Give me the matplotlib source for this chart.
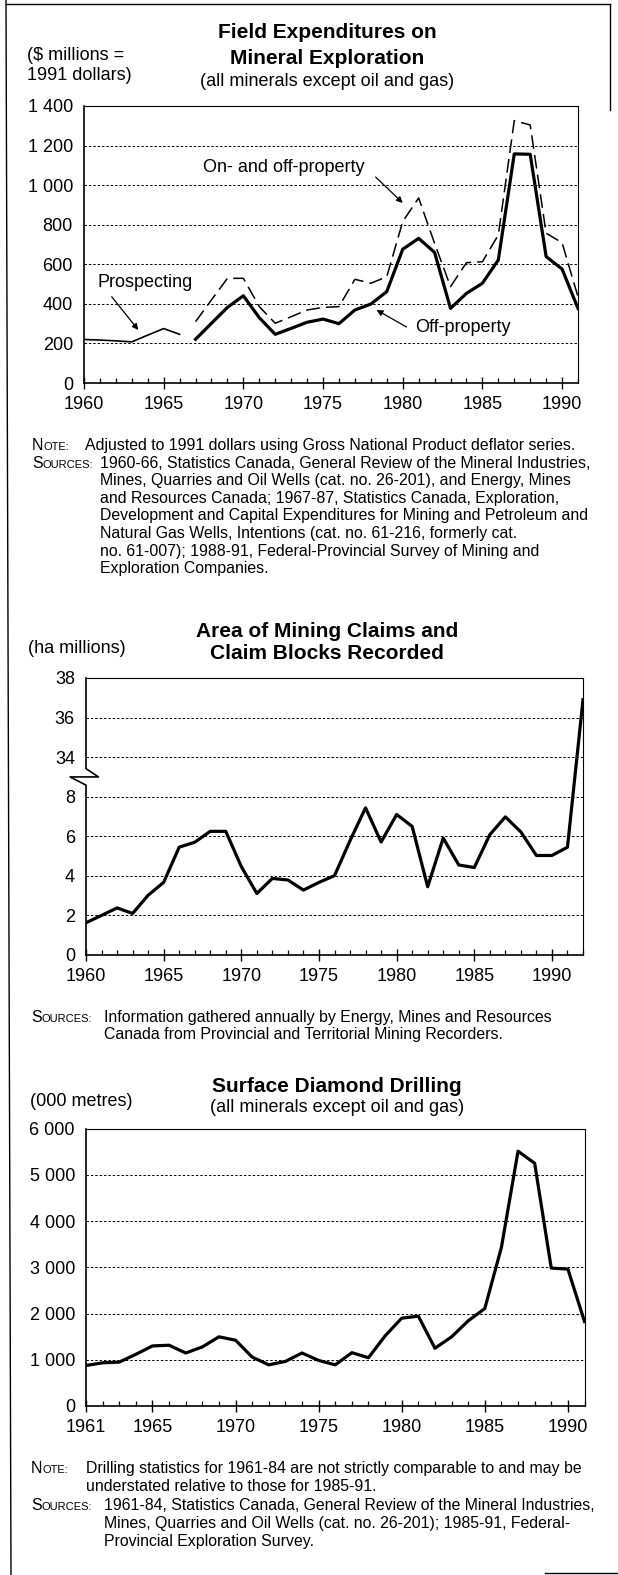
import numpy as np
import matplotlib
matplotlib.use("Agg")
import matplotlib.pyplot as plt
import matplotlib.transforms as mtransforms
from matplotlib.lines import Line2D

plt.rcParams['font.family'] = ['Liberation Sans', 'DejaVu Sans']

W, H = 618, 1575
NOTE_SIZE = 11.4

# values
prosp_years = list(range(1960, 1967))
prospecting = [220, 217, 213, 208, 242, 275, 246]

expl_years = list(range(1967, 1992))
off_property = [221, 302, 382, 441, 330, 246, 276, 307, 323, 300, 369, 399, 462,
                676, 731, 660, 377, 453, 504, 622, 1158, 1156, 639, 576, 377]
on_off_property = [310, 420, 529, 529, 386, 302, 335, 369, 382, 386, 524, 504, 537,
                   816, 935, 706, 487, 608, 613, 748, 1326, 1304, 757, 709, 436]

claim_years = list(range(1960, 1993))
claims = [1.63, 2.0, 2.38, 2.1, 3.02, 3.67, 5.45, 5.7, 6.25, 6.25, 4.47, 3.11, 3.87,
          3.79, 3.28, 3.67, 4.01, 5.78, 7.44, 5.71, 7.1, 6.5, 3.45, 5.91, 4.55, 4.42,
          6.08, 6.98, 6.22, 5.03, 5.03, 5.45, 36.9]
claim_ticks = [0, 2, 4, 6, 8, 34, 36, 38]

drill_years = list(range(1961, 1992))
drilling = [876, 934, 949, 1117, 1299, 1314, 1146, 1277, 1496, 1423, 1058, 890, 964,
            1146, 985, 890, 1153, 1044, 1516, 1899, 1942, 1249, 1495, 1841, 2108,
            3430, 5509, 5249, 2982, 2960, 1827]

note1 = ["Adjusted to 1991 dollars using Gross National Product deflator series."]
sources1 = ["1960-66, Statistics Canada, General Review of the Mineral Industries,",
            "Mines, Quarries and Oil Wells (cat. no. 26-201), and Energy, Mines",
            "and Resources Canada; 1967-87, Statistics Canada, Exploration,",
            "Development and Capital Expenditures for Mining and Petroleum and",
            "Natural Gas Wells, Intentions (cat. no. 61-216, formerly cat.",
            "no. 61-007); 1988-91, Federal-Provincial Survey of Mining and",
            "Exploration Companies."]
sources2 = ["Information gathered annually by Energy, Mines and Resources",
            "Canada from Provincial and Territorial Mining Recorders."]
note3 = ["Drilling statistics for 1961-84 are not strictly comparable to and may be",
         "understated relative to those for 1985-91."]
sources3 = ["1961-84, Statistics Canada, General Review of the Mineral Industries,",
            "Mines, Quarries and Oil Wells (cat. no. 26-201); 1985-91, Federal-",
            "Provincial Exploration Survey."]

fig = plt.figure(figsize=(W / 100, H / 100), dpi=100)
renderer = fig.canvas.get_renderer()


def fx(x):
    return x / W


def fy(y):
    return 1 - y / H


def box(l, t, r, b):
    return [l / W, 1 - b / H, (r - l) / W, (b - t) / H]


def thousands(v):
    return f"{int(v):,}".replace(",", " ")


def style(ax, xmin, xmax, majors, grid_vals):
    ax.set_xlim(xmin, xmax)
    ax.set_xticks(majors)
    ax.set_xticks(range(xmin, xmax + 1), minor=True)
    ax.tick_params(axis='x', which='major', direction='inout', length=8, width=1,
                   pad=5.5, labelsize=13)
    ax.tick_params(axis='x', which='minor', direction='in', length=3.5, width=0.9)
    ax.tick_params(axis='y', length=0, pad=8, labelsize=13)
    for g in grid_vals:
        ax.axhline(g, color='black', lw=0.7, ls=(0, (2.5, 2)), zorder=1)
    for s in ['left', 'bottom']:
        ax.spines[s].set_linewidth(1.2)
    for s in ['top', 'right']:
        ax.spines[s].set_linewidth(0.8)


def smallcaps(x, y, word, size=NOTE_SIZE):
    t = fig.text(fx(x), fy(y), word[0], fontsize=size, va='baseline')
    bb = t.get_window_extent(renderer)
    fig.text(bb.x1 / W, fy(y), word[1:].upper(), fontsize=size * 0.7, va='baseline')


def notes(y0, step, label, lines, x_label, x_text):
    smallcaps(x_label, y0, label)
    for i, line in enumerate(lines):
        fig.text(fx(x_text), fy(y0 + i * step), line, fontsize=NOTE_SIZE, va='baseline')
    return y0 + len(lines) * step


# ---------- chart 1: field expenditures ----------
ax1 = fig.add_axes(box(84, 106, 578, 383))
style(ax1, 1960, 1991, list(range(1960, 1991, 5)), range(200, 1400, 200))
ax1.set_ylim(0, 1400)
ax1.set_yticks(range(0, 1401, 200))
ax1.set_yticklabels([thousands(v) for v in range(0, 1401, 200)])
ax1.plot(prosp_years, prospecting, color='black', lw=1.2, zorder=3)
ax1.plot(expl_years, on_off_property, color='black', lw=1.1, ls=(0, (9, 4)), zorder=3)
ax1.plot(expl_years, off_property, color='black', lw=2.3, zorder=4)

arrow = dict(arrowstyle='-|>', color='black', lw=0.9, shrinkA=0, shrinkB=0, mutation_scale=9)
ax1.text(1972.55, 1087, 'On- and off-property', ha='center', va='center', fontsize=13)
ax1.annotate('', xy=(1980.0, 910), xytext=(1978.3, 1041), arrowprops=arrow)
ax1.text(1963.83, 510, 'Prospecting', ha='center', va='center', fontsize=13)
ax1.annotate('', xy=(1963.41, 268), xytext=(1961.74, 436), arrowprops=arrow)
ax1.text(1983.78, 283, 'Off-property', ha='center', va='center', fontsize=13)
ax1.annotate('', xy=(1978.36, 369), xytext=(1980.24, 283), arrowprops=arrow)

fig.text(fx(327), fy(33), 'Field Expenditures on', ha='center', va='center',
         fontsize=15, fontweight='bold')
fig.text(fx(327), fy(58), 'Mineral Exploration', ha='center', va='center',
         fontsize=15, fontweight='bold')
fig.text(fx(327), fy(82), '(all minerals except oil and gas)', ha='center', va='center', fontsize=13)
fig.text(fx(27), fy(55), '($ millions =', va='center', fontsize=13)
fig.text(fx(27), fy(76), '1991 dollars)', va='center', fontsize=13)

notes(450, 17.6, 'Note:', note1, 32, 85)
notes(467.6, 17.6, 'Sources:', sources1, 32, 100)

# ---------- chart 2: mining claims (broken y axis) ----------
shift = 34 - 8 - 2


def squash(v):
    v = np.asarray(v, dtype=float)
    return np.where(v > 8, v - shift, v)


ax2 = fig.add_axes(box(86, 678, 583, 955))
style(ax2, 1960, 1992, list(range(1960, 1991, 5)), squash([2, 4, 6, 8, 34, 36]))
ax2.set_ylim(0, squash(38))
ax2.set_yticks(squash(claim_ticks))
ax2.set_yticklabels([str(v) for v in claim_ticks])
ax2.plot(claim_years, squash(claims), color='black', lw=2.3, zorder=4)
ax2.spines['left'].set_visible(False)
trans = mtransforms.blended_transform_factory(ax2.transAxes, ax2.transData)
ax2.add_line(Line2D([0, 0, 0.025, -0.032, 0, 0], [squash(38), 9.42, 9.0, 9.0, 8.585, 0],
                    transform=trans, color='black', lw=1.2, clip_on=False))

fig.text(fx(327), fy(631), 'Area of Mining Claims and', ha='center', va='center',
         fontsize=15, fontweight='bold')
fig.text(fx(327), fy(654), 'Claim Blocks Recorded', ha='center', va='center',
         fontsize=15, fontweight='bold')
fig.text(fx(28), fy(648), '(ha millions)', va='center', fontsize=13)
notes(1022, 17.4, 'Sources:', sources2, 31, 104)

# ---------- chart 3: diamond drilling ----------
ax3 = fig.add_axes(box(86, 1128.5, 584.5, 1406))
style(ax3, 1961, 1991, [1961] + list(range(1965, 1991, 5)), range(1000, 6000, 1000))
ax3.set_ylim(0, 6000)
ax3.set_yticks(range(0, 6001, 1000))
ax3.set_yticklabels([thousands(v) for v in range(0, 6001, 1000)])
ax3.plot(drill_years, drilling, color='black', lw=2.3, zorder=4)

fig.text(fx(337), fy(1087), 'Surface Diamond Drilling', ha='center', va='center',
         fontsize=15, fontweight='bold')
fig.text(fx(337), fy(1108), '(all minerals except oil and gas)', ha='center', va='center', fontsize=13)
fig.text(fx(30), fy(1101), '(000 metres)', va='center', fontsize=13)
notes(1473, 18.3, 'Note:', note3, 31, 86)
notes(1509.6, 18.3, 'Sources:', sources3, 31, 104)

# page frame from the scan
for xs, ys in [([6, 11], [0, H]), ([6, 610], [4, 4]), ([610, 610], [4, 110]),
               ([545, 618], [1573, 1573])]:
    fig.add_artist(Line2D([fx(x) for x in xs], [fy(y) for y in ys],
                          transform=fig.transFigure, color='black', lw=1))

fig.savefig('out.png', dpi=100)
